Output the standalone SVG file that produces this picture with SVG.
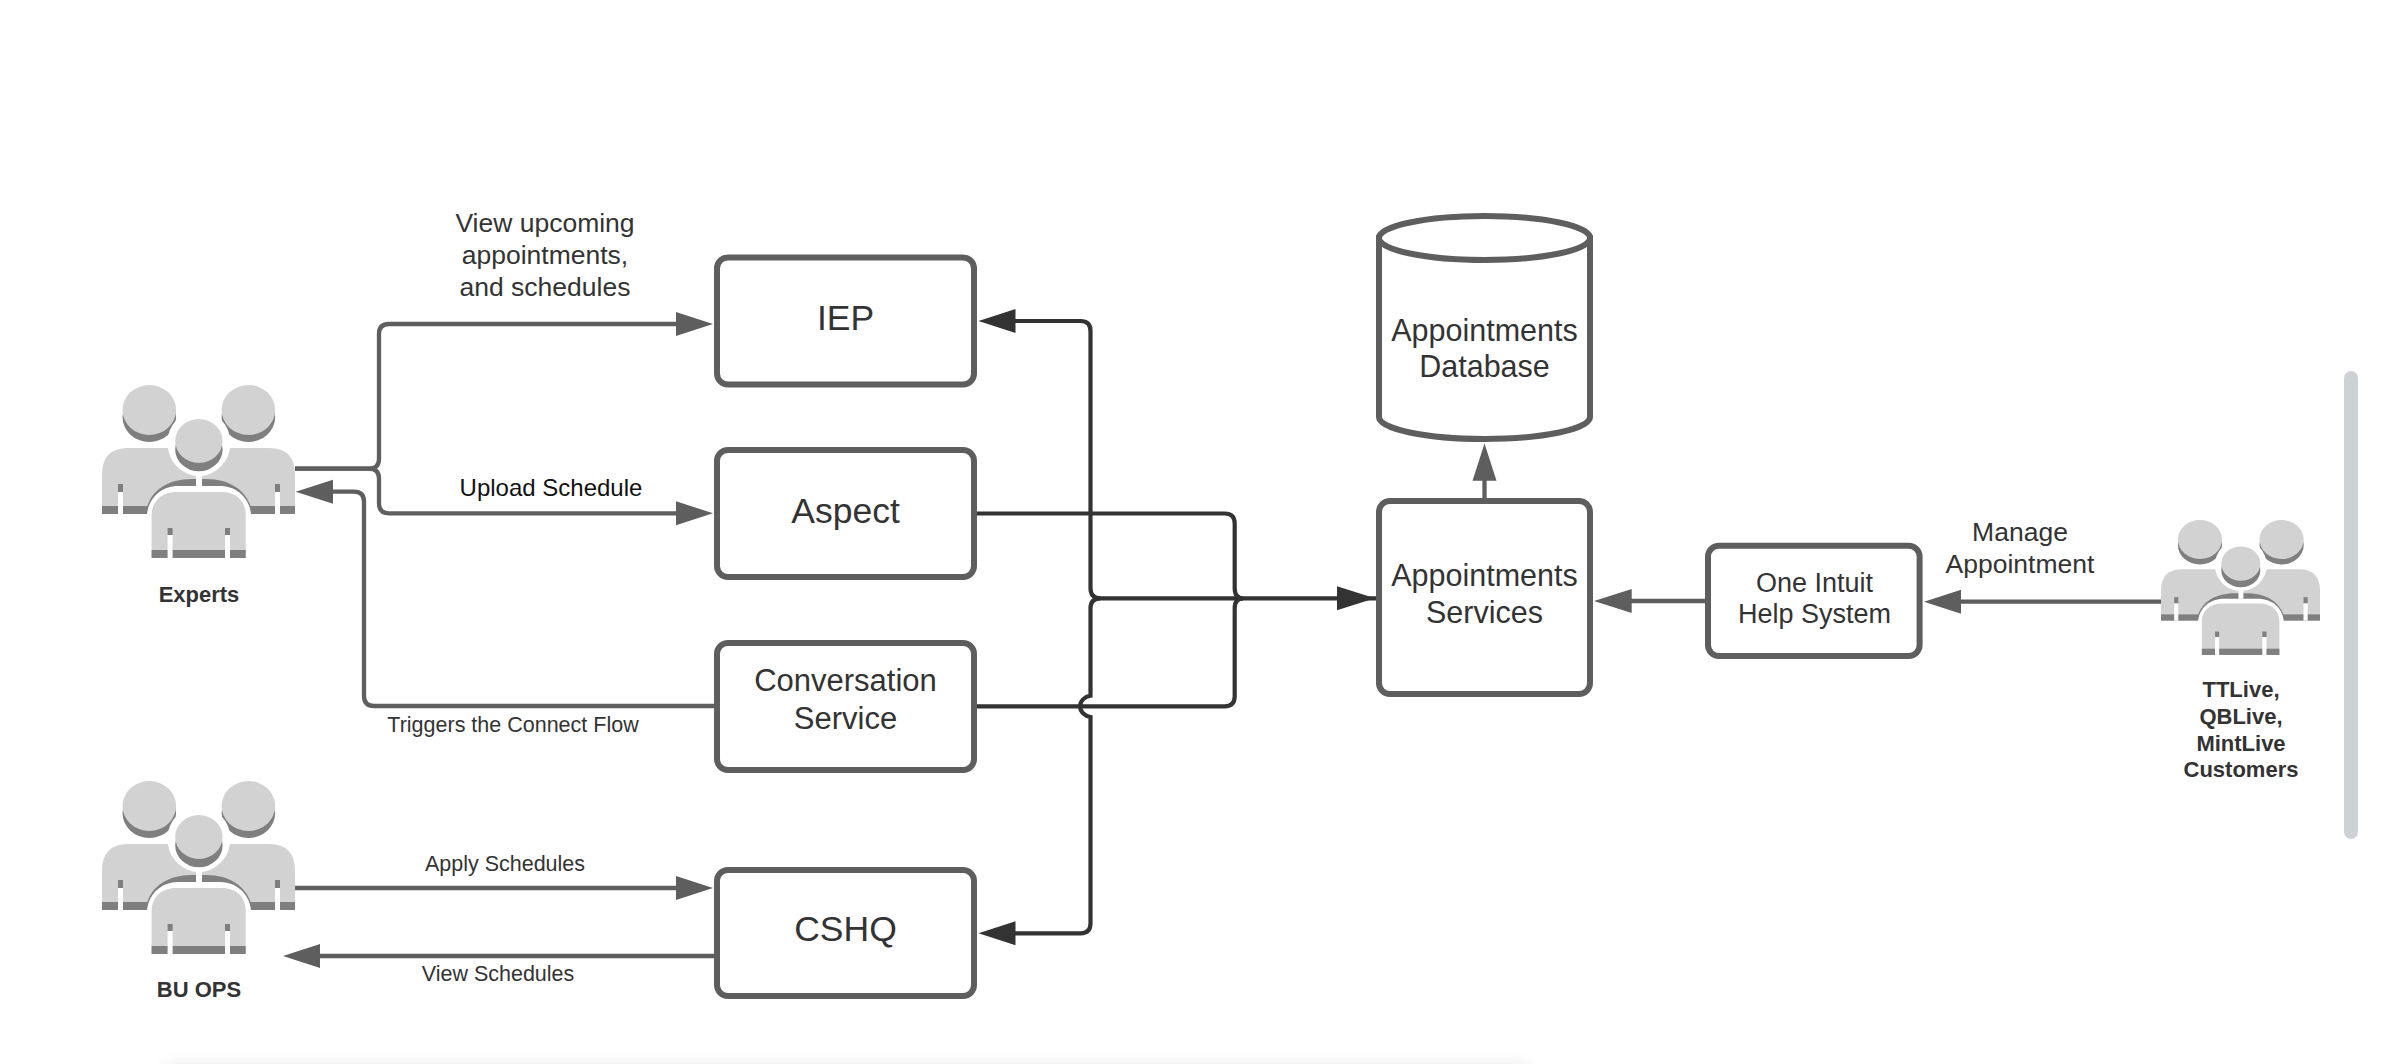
<svg xmlns="http://www.w3.org/2000/svg" width="2391" height="1064" viewBox="0 0 2391 1064">
<style>
text{font-family:"Liberation Sans",Arial,sans-serif;fill:#333;text-anchor:middle}
.box{fill:#fff;stroke:#5e5e5e;stroke-width:6}
.g{fill:none;stroke:#5e5e5e;stroke-width:4.300}
.d{fill:none;stroke:#333;stroke-width:4.200}
.gh{fill:#5e5e5e}.dh{fill:#333}
.lt{fill:#d2d2d2}.sh{fill:#7f7f7f}.wh{fill:#fff}
.t35{font-size:35.500px}.t30{font-size:30.500px}.t31{font-size:31px}.t27{font-size:27px}.t26{font-size:26.500px}.t21{font-size:21.500px}.t24{font-size:24px}
.b{font-size:22px;font-weight:700}
</style>
<defs>
<filter id="soft" x="-5%" y="-200%" width="110%" height="500%"><feGaussianBlur stdDeviation="7"/></filter>
<g id="people">
<ellipse class="sh" cx="47.3" cy="32" rx="26.8" ry="25"/><ellipse class="lt" cx="47.3" cy="25" rx="26.8" ry="25"/>
<ellipse class="sh" cx="146.4" cy="32" rx="26.8" ry="25"/><ellipse class="lt" cx="146.4" cy="25" rx="26.8" ry="25"/>
<path class="lt" d="M0 129V90Q0 63 26 63H167Q193 63 193 90V129Z"/>
<rect class="sh" x="0" y="121" width="193" height="8"/>
<rect class="sh" x="16" y="99" width="5" height="8"/><rect class="wh" x="16" y="107" width="5" height="22"/>
<rect class="sh" x="173" y="99" width="5" height="8"/><rect class="wh" x="173" y="107" width="5" height="22"/>
<path class="sh" d="M45 122C50 105 66 94 90 94H104C128 94 143 105 149 122V129H45Z"/>
<path class="wh" d="M45 129C47 112 60 101 76 101H118C134 101 147 112 149 129V173H45Z"/>
<path class="lt" d="M49.600 173V130C49.600 116 60 107 74 107H120C134 107 143.700 116 143.700 130V173Z"/>
<rect class="sh" x="49.600" y="165" width="94.100" height="8"/>
<rect class="sh" x="65.600" y="143" width="5" height="7"/><rect class="wh" x="65.600" y="150" width="5" height="23"/>
<rect class="sh" x="123" y="143" width="5" height="7"/><rect class="wh" x="123" y="150" width="5" height="23"/>
<rect class="wh" x="94" y="85" width="6" height="16"/>
<ellipse class="wh" cx="96.900" cy="58" rx="31.500" ry="33"/>
<ellipse class="sh" cx="96.900" cy="64.300" rx="23.700" ry="22"/><ellipse class="lt" cx="96.900" cy="56" rx="23.700" ry="22"/>
</g>
</defs>
<rect width="2391" height="1064" fill="#fff"/>
<rect id="scrollbar" x="2344" y="371" width="14" height="468" rx="7" fill="#ced2d7"/>
<rect id="edge-shadow" x="165" y="1063" width="1365" height="16" fill="#ededed" filter="url(#soft)"/>
<g id="connectors">
<path class="g" d="M295 468.700H369Q379 468.700 379 458.700V334Q379 324 389 324H678"/>
<path class="g" d="M295 468.700H369Q379 468.700 379 478.700V503.300Q379 513.300 389 513.300H678"/>
<polygon class="gh" points="713,324 676,312 676,336"/><polygon class="gh" points="713,513.300 676,501.300 676,525.300"/>
<path class="g" d="M717 706H374Q364 706 364 696V501.700Q364 491.700 354 491.700H331"/>
<polygon class="gh" points="295.700,491.700 333,479.700 333,503.700"/>
<path class="g" d="M295 888H678"/><polygon class="gh" points="713,888 676,876 676,900"/>
<path class="g" d="M717 956H318"/><polygon class="gh" points="283,956 320,944 320,968"/>
<path class="g" d="M1484.500 501V478"/><polygon class="gh" points="1484.500,443.500 1472.500,480.700 1496.500,480.700"/>
<path class="g" d="M1708 601H1630"/><polygon class="gh" points="1594,601 1631.700,589 1631.700,613"/>
<path class="g" d="M2161 601.700H1959"/><polygon class="gh" points="1924,601.700 1961,589.700 1961,613.700"/>
<path class="d" d="M1013 321H1080.500Q1090.500 321 1090.500 331V588Q1090.500 598.300 1100.500 598.300H1377"/>
<path class="d" d="M1243 598.300Q1234.700 598.300 1234.700 588V523.500Q1234.700 513.500 1224.700 513.500H977"/>
<path class="d" d="M1243 598.300Q1234.700 598.300 1234.700 608.300V696.300Q1234.700 706.300 1224.700 706.300H977"/>
<path class="d" d="M1013 933.300H1080.500Q1090.500 933.300 1090.500 923.300V717A12.500 10.800 0 0 1 1090.500 695.700V608.300Q1090.500 598.300 1100.500 598.300"/>
<polygon class="dh" points="978.500,321 1015.500,309 1015.500,333"/>
<polygon class="dh" points="978.500,933.300 1015.500,921.300 1015.500,945.300"/>
<polygon class="dh" points="1375,598.300 1337,586.300 1337,610.300"/>
</g>
<g id="experts"><use href="#people" x="102" y="385"/><text class="b" x="199" y="602">Experts</text></g>
<g id="bu-ops"><use href="#people" x="102" y="781"/><text class="b" x="199" y="997">BU OPS</text></g>
<g id="customers"><use href="#people" transform="translate(2161 520) scale(.8238 .78)"/>
<text class="b" x="2241" y="697">TTLive,</text><text class="b" x="2241" y="724">QBLive,</text><text class="b" x="2241" y="750.500">MintLive</text><text class="b" x="2241" y="776.500">Customers</text></g>
<g id="iep"><rect class="box" x="717" y="257.500" width="257" height="127" rx="11"/><text class="t35" x="845.500" y="330">IEP</text></g>
<g id="aspect"><rect class="box" x="717" y="450" width="257" height="127" rx="11"/><text class="t35" x="845.500" y="523">Aspect</text></g>
<g id="conversation"><rect class="box" x="717" y="643" width="257" height="127" rx="11"/><text class="t31" x="845.500" y="691">Conversation</text><text class="t31" x="845.500" y="729">Service</text></g>
<g id="cshq"><rect class="box" x="717" y="870" width="257" height="126" rx="11"/><text class="t35" x="845.500" y="941">CSHQ</text></g>
<g id="database"><path class="box" d="M1379 238V417C1379 429 1426 439 1484.500 439S1590 429 1590 417V238Z"/><ellipse class="box" cx="1484.500" cy="238" rx="105.500" ry="22"/><text class="t30" x="1484.500" y="341">Appointments</text><text class="t30" x="1484.500" y="377">Database</text></g>
<g id="services"><rect class="box" x="1379" y="501" width="211" height="193" rx="11"/><text class="t30" x="1484.500" y="586">Appointments</text><text class="t30" x="1484.500" y="623">Services</text></g>
<g id="one-intuit"><rect class="box" x="1708" y="545.700" width="211.600" height="110.300" rx="11"/><text class="t27" x="1814.500" y="592">One Intuit</text><text class="t27" x="1814.500" y="623">Help System</text></g>
<g id="labels">
<text class="t26" x="545" y="232">View upcoming</text><text class="t26" x="545" y="264">appointments,</text><text class="t26" x="545" y="296">and schedules</text>
<text class="t24" x="551" y="496" style="fill:#111">Upload Schedule</text>
<text class="t21" x="513" y="732">Triggers the Connect Flow</text>
<text class="t21" x="505" y="871">Apply Schedules</text>
<text class="t21" x="498" y="981">View Schedules</text>
<text class="t26" x="2020" y="541">Manage</text><text class="t26" x="2020" y="573">Appointment</text>
</g>
</svg>
